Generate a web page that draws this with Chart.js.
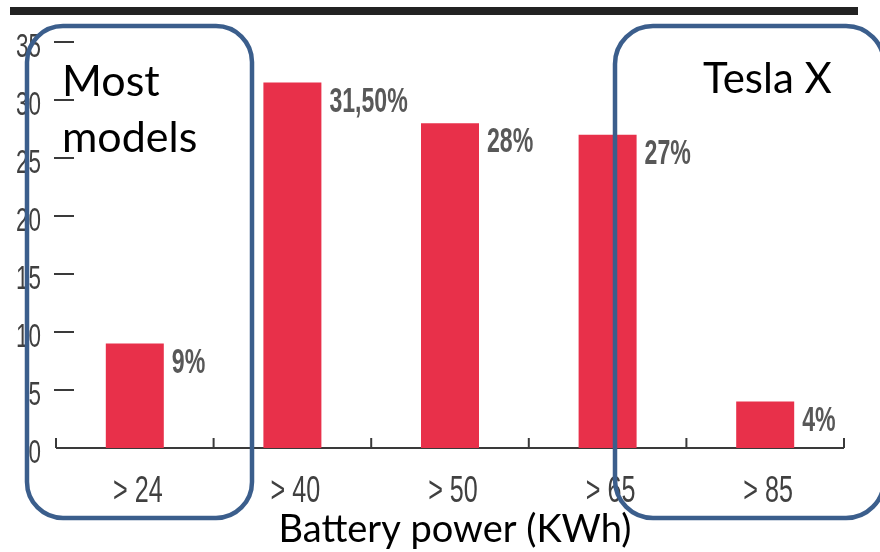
<!DOCTYPE html>
<html>
<head>
<meta charset="utf-8">
<script src="https://cdn.jsdelivr.net/npm/chart.js@4/dist/chart.umd.min.js"></script>
<style>
  html, body { margin: 0; padding: 0; background: #ffffff; }
  #wrap { width: 880px; height: 552px; position: relative; }
</style>
</head>
<body>
<div id="wrap"><canvas id="chart" width="880" height="552"></canvas></div>
<script>
// Battery capacity classes and share of models in each (%)
const categories = ['> 24', '> 40', '> 50', '> 65', '> 85'];
const shares = [9, 31.5, 28, 27, 4];
const shareLabels = ['9%', '31,50%', '28%', '27%', '4%'];
const yTicks = [0, 5, 10, 15, 20, 25, 30, 35];
const axisTitle = 'Battery power (KWh)';
const leftNote = ['Most', 'models'];
const rightNote = ['Tesla X'];

const BAR_RED = '#E8304A';
const INK = '#404040';
const FRAME_BLUE = '#3B5E8C';

// Draws narrow (horizontally squeezed) text, like a condensed typeface
function condText(ctx, text, x, y, size, sx, align, weight, color) {
  ctx.save();
  ctx.font = `${weight} ${size}px "Liberation Sans", Arial, sans-serif`;
  ctx.fillStyle = color;
  ctx.textBaseline = 'alphabetic';
  ctx.textAlign = 'left';
  const w = ctx.measureText(text).width * sx;
  const left = align === 'right' ? x - w : align === 'center' ? x - w / 2 : x;
  ctx.translate(left, y);
  ctx.scale(sx, 1);
  ctx.fillText(text, 0, 0);
  ctx.restore();
}

function roundRect(ctx, x, y, w, h, r) {
  ctx.beginPath();
  ctx.moveTo(x + r, y);
  ctx.lineTo(x + w - r, y);
  ctx.arcTo(x + w, y, x + w, y + r, r);
  ctx.lineTo(x + w, y + h - r);
  ctx.arcTo(x + w, y + h, x + w - r, y + h, r);
  ctx.lineTo(x + r, y + h);
  ctx.arcTo(x, y + h, x, y + h - r, r);
  ctx.lineTo(x, y + r);
  ctx.arcTo(x, y, x + r, y, r);
  ctx.closePath();
}

// Axes, labels and callout frames drawn from the chart's own scales
const decorations = {
  id: 'decorations',
  beforeDatasetsDraw(chart) {
    const ctx = chart.ctx;
    const xs = chart.scales.x;
    const ys = chart.scales.y;
    const area = chart.chartArea;
    ctx.save();

    // heavy rule across the top
    ctx.fillStyle = '#222222';
    ctx.fillRect(10, 7, 848, 8);

    // y ticks: short dashes plus condensed numbers
    ctx.strokeStyle = '#3a3a3a';
    ctx.lineWidth = 2;
    yTicks.forEach(v => {
      const py = ys.getPixelForValue(v);
      if (v !== 0) {
        ctx.beginPath();
        ctx.moveTo(area.left - 2, py);
        ctx.lineTo(area.left + 18, py);
        ctx.stroke();
      }
      condText(ctx, String(v), 41, py + 15, 33, 0.68, 'right', 'normal', INK);
    });

    // x axis baseline with upward ticks at category boundaries
    const half = (xs.getPixelForValue(1) - xs.getPixelForValue(0)) / 2;
    const y0 = ys.getPixelForValue(0);
    const first = xs.getPixelForValue(0) - half;
    const last = xs.getPixelForValue(categories.length - 1) + half;
    ctx.beginPath();
    ctx.moveTo(first, y0);
    ctx.lineTo(last, y0);
    ctx.stroke();
    for (let i = 0; i <= categories.length; i++) {
      const px = first + i * 2 * half;
      ctx.beginPath();
      ctx.moveTo(px, y0);
      ctx.lineTo(px, y0 - 10);
      ctx.stroke();
    }
    ctx.restore();
  },
  afterDraw(chart) {
    const ctx = chart.ctx;
    const xs = chart.scales.x;
    const meta = chart.getDatasetMeta(0);
    ctx.save();

    // category labels
    categories.forEach((c, i) => {
      condText(ctx, c, xs.getPixelForValue(i) + 3, 502, 37, 0.68, 'center', 'normal', INK);
    });

    // value labels beside each bar top
    meta.data.forEach((bar, i) => {
      const right = bar.x + bar.width / 2;
      condText(ctx, shareLabels[i], right + 8, bar.y + 29, 35, 0.66, 'left', 'bold', '#585858');
    });

    // axis title
    ctx.font = '38px Lato, "Open Sans", sans-serif';
    ctx.fillStyle = '#000000';
    ctx.textAlign = 'center';
    ctx.textBaseline = 'alphabetic';
    ctx.fillText(axisTitle, 455, 542);

    // callout frames
    ctx.strokeStyle = FRAME_BLUE;
    ctx.lineWidth = 4.5;
    roundRect(ctx, 27, 26, 225, 492, 36);
    ctx.stroke();
    roundRect(ctx, 615, 26, 269, 492, 38);
    ctx.stroke();

    // callout text
    ctx.fillStyle = '#000000';
    ctx.textAlign = 'left';
    ctx.font = '43px Lato, "Open Sans", sans-serif';
    leftNote.forEach((t, i) => ctx.fillText(t, 62, 96 + i * 56));
    ctx.font = '42px Lato, "Open Sans", sans-serif';
    rightNote.forEach((t, i) => ctx.fillText(t, 703, 93 + i * 50));
    ctx.restore();
  }
};

new Chart(document.getElementById('chart'), {
  type: 'bar',
  data: {
    labels: categories,
    datasets: [{
      data: shares,
      backgroundColor: BAR_RED,
      borderWidth: 0,
      categoryPercentage: 1,
      barPercentage: 0.368
    }]
  },
  options: {
    responsive: false,
    devicePixelRatio: 1,
    animation: false,
    layout: { padding: { left: 56, right: 36, top: 42, bottom: 104 } },
    plugins: { legend: { display: false }, tooltip: { enabled: false }, title: { display: false } },
    scales: {
      x: { display: false, offset: true },
      y: { display: false, min: 0, max: 35 }
    }
  },
  plugins: [decorations]
});
</script>
</body>
</html>
